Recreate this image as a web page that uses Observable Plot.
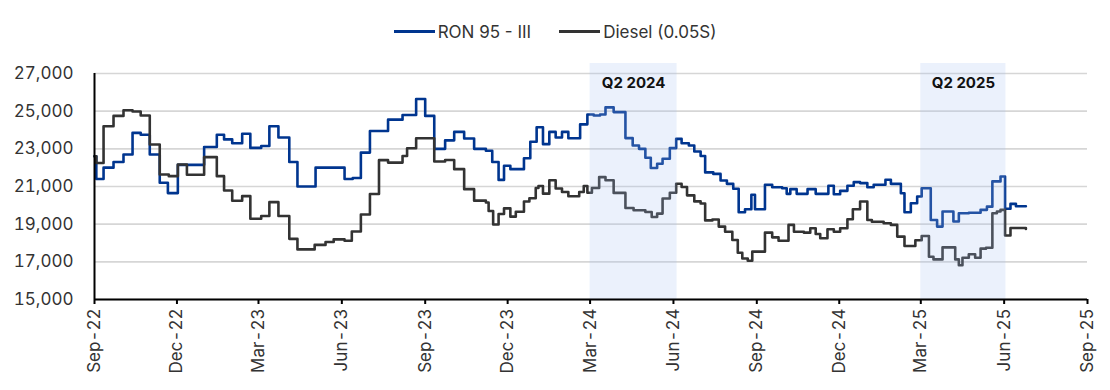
<!DOCTYPE html>
<html>
<head>
<meta charset="utf-8">
<script src="https://cdn.jsdelivr.net/npm/d3@7"></script>
<script src="https://cdn.jsdelivr.net/npm/@observablehq/plot@0.6"></script>
<style>
  html, body { margin: 0; padding: 0; background: #fff; }
  body { width: 1110px; height: 390px; overflow: hidden; font-family: Inter, "DejaVu Sans", sans-serif; }
  #legend { height: 50px; box-sizing: border-box; padding-top: 13px; display: flex; justify-content: center; align-items: center; font-size: 17px; color: #333; }
  .item { display: flex; align-items: center; margin: 0 14px; }
  .sw { display: inline-block; width: 41px; height: 3px; margin-right: 3px; }
  svg { display: block; }
</style>
</head>
<body>
<div id="legend"></div>
<div id="chart"></div>
<script>
const seriesNames = ["RON 95 - III", "Diesel (0.05S)"];
const seriesColors = ["#00358f", "#333333"];

const ronDates = ["2022-09-01","2022-09-03","2022-09-11","2022-09-22","2022-10-03","2022-10-13","2022-10-22","2022-11-01","2022-11-12","2022-11-21","2022-12-02","2022-12-31","2023-01-14","2023-01-22","2023-01-31","2023-02-11","2023-02-20","2023-03-04","2023-03-13","2023-03-23","2023-04-04","2023-04-13","2023-05-03","2023-06-04","2023-06-13","2023-06-22","2023-07-02","2023-07-22","2023-08-07","2023-08-22","2023-09-01","2023-09-11","2023-09-23","2023-10-03","2023-10-14","2023-10-25","2023-11-07","2023-11-14","2023-11-21","2023-11-27","2023-12-04","2023-12-19","2023-12-26","2024-01-02","2024-01-09","2024-01-16","2024-01-23","2024-01-30","2024-02-06","2024-02-19","2024-02-27","2024-03-05","2024-03-12","2024-03-18","2024-03-27","2024-04-09","2024-04-17","2024-04-24","2024-05-01","2024-05-07","2024-05-14","2024-05-20","2024-05-28","2024-06-04","2024-06-10","2024-06-18","2024-06-24","2024-07-01","2024-07-06","2024-07-15","2024-07-23","2024-07-30","2024-08-06","2024-08-12","2024-08-19","2024-08-26","2024-08-30","2024-09-10","2024-09-18","2024-09-29","2024-10-04","2024-10-08","2024-10-15","2024-10-27","2024-11-05","2024-11-19","2024-11-25","2024-12-02","2024-12-10","2024-12-17","2024-12-24","2025-01-01","2025-01-08","2025-01-21","2025-01-27","2025-02-07","2025-02-11","2025-02-18","2025-02-25","2025-03-02","2025-03-12","2025-03-19","2025-03-25","2025-04-06","2025-04-12","2025-04-23","2025-05-06","2025-05-13","2025-05-19","2025-05-28","2025-06-02","2025-06-08","2025-06-14","2025-06-25"];
const ronValues = [22600,21400,22000,22300,22700,23850,23750,22700,21200,20650,22150,23100,23750,23500,23300,23800,23050,23150,24200,23600,22300,21000,22000,21400,21450,22800,23950,24550,24800,25650,24750,23000,23450,23900,23550,23000,22900,22300,21350,22100,21920,22500,23380,24150,23250,23900,23600,23900,23560,24300,24820,24770,24820,25200,24950,23570,23180,23000,22530,21980,22210,22470,23040,23530,23300,23180,22860,22620,21750,21670,21320,21140,20880,19630,19790,20560,19790,21090,20960,20910,20610,20860,20610,20860,20610,21040,20590,20770,21040,21230,21180,20960,21090,21360,21140,20640,19630,20110,20470,20910,19220,18870,19670,19140,19580,19610,19760,19930,21270,21530,19820,20080,19950,19950];

const dieselDates = ["2022-09-01","2022-09-03","2022-09-11","2022-09-22","2022-10-03","2022-10-13","2022-10-22","2022-11-01","2022-11-12","2022-11-22","2022-12-02","2022-12-12","2022-12-31","2023-01-14","2023-01-22","2023-01-31","2023-02-11","2023-02-20","2023-03-04","2023-03-13","2023-03-23","2023-04-04","2023-04-13","2023-05-02","2023-05-14","2023-05-23","2023-06-04","2023-06-12","2023-06-22","2023-07-02","2023-07-12","2023-07-22","2023-08-07","2023-08-12","2023-08-22","2023-09-11","2023-09-23","2023-10-03","2023-10-14","2023-10-25","2023-11-07","2023-11-10","2023-11-15","2023-11-21","2023-11-27","2023-12-04","2023-12-10","2023-12-19","2023-12-25","2024-01-01","2024-01-04","2024-01-09","2024-01-16","2024-01-23","2024-01-30","2024-02-06","2024-02-18","2024-02-23","2024-02-27","2024-03-03","2024-03-11","2024-03-18","2024-03-27","2024-04-09","2024-04-18","2024-05-01","2024-05-08","2024-05-14","2024-05-20","2024-05-28","2024-06-04","2024-06-10","2024-06-16","2024-06-24","2024-07-01","2024-07-06","2024-07-14","2024-07-21","2024-07-28","2024-08-05","2024-08-11","2024-08-16","2024-08-22","2024-08-27","2024-09-10","2024-09-18","2024-09-25","2024-10-06","2024-10-12","2024-10-23","2024-10-30","2024-11-05","2024-11-10","2024-11-18","2024-11-25","2024-12-02","2024-12-10","2024-12-16","2024-12-24","2025-01-01","2025-01-06","2025-01-19","2025-01-27","2025-02-03","2025-02-11","2025-02-23","2025-03-02","2025-03-10","2025-03-15","2025-03-25","2025-04-08","2025-04-12","2025-04-16","2025-04-23","2025-04-30","2025-05-06","2025-05-12","2025-05-19","2025-05-24","2025-05-28","2025-06-02","2025-06-08","2025-06-25"];
const dieselValues = [22600,22250,24200,24750,25050,24980,24770,23230,21640,21550,22170,21620,22560,21550,20790,20240,20490,19290,19430,20170,19430,18220,17660,17900,18050,18190,18120,18610,19510,20600,22400,22270,22620,23030,23560,22330,22410,21920,20860,20250,20150,19700,18980,19540,19840,19400,19660,20200,20380,20920,21030,20620,21330,20890,20710,20480,20710,21030,20670,20920,21500,21330,20660,19860,19740,19650,19380,19560,20360,20670,21150,20970,20530,20210,20100,19200,19250,18870,18600,18160,17480,17180,17060,17540,18550,18300,18120,18960,18600,18550,18780,18480,18250,18730,18600,18780,19260,19790,20200,19220,19130,19050,18960,18340,17840,18150,18370,17270,17130,17770,17130,16820,17220,17400,17220,17700,17750,19580,19670,19760,18400,18800,18750];

const quarterLabels = ["Q2 2024", "Q2 2025"];
const quarterStarts = ["2024-03-01", "2025-03-01"];
const quarterEnds = ["2024-06-05", "2025-06-03"];

const xTicks = ["2022-09-01","2022-12-01","2023-03-01","2023-06-01","2023-09-01","2023-12-01","2024-03-01","2024-06-01","2024-09-01","2024-12-01","2025-03-01","2025-06-01","2025-09-01"];
const yTicks = [15000, 17000, 19000, 21000, 23000, 25000, 27000];

const parse = d3.utcParse("%Y-%m-%d");
const ron = ronDates.map((d, i) => ({date: parse(d), value: ronValues[i]}));
const diesel = dieselDates.map((d, i) => ({date: parse(d), value: dieselValues[i]}));
const quarters = quarterLabels.map((l, i) => ({label: l, start: parse(quarterStarts[i]), end: parse(quarterEnds[i])}));
const xTickDates = xTicks.map(parse);

// legend
const legend = document.getElementById("legend");
seriesNames.forEach((n, i) => {
  const it = document.createElement("div");
  it.className = "item";
  const sw = document.createElement("span");
  sw.className = "sw";
  sw.style.background = seriesColors[i];
  it.appendChild(sw);
  it.appendChild(document.createTextNode(n));
  legend.appendChild(it);
});

const chart = Plot.plot({
  width: 1110,
  height: 340,
  marginTop: 23,
  marginBottom: 91,
  marginLeft: 94,
  marginRight: 23,
  style: {fontFamily: "Inter, 'DejaVu Sans', sans-serif", fontSize: "17px", color: "#333", background: "#fff"},
  x: {type: "utc", domain: [xTickDates[0], xTickDates[xTickDates.length - 1]]},
  y: {domain: [yTicks[0], yTicks[yTicks.length - 1]]},
  marks: [
    Plot.gridY(yTicks, {stroke: "#d6d6d6", strokeOpacity: 1, strokeWidth: 1.7}),
    Plot.line(ron, {x: "date", y: "value", curve: "step-after", stroke: seriesColors[0], strokeWidth: 2.6}),
    Plot.line(diesel, {x: "date", y: "value", curve: "step-after", stroke: seriesColors[1], strokeWidth: 2.6}),
    Plot.rect(quarters, {x1: "start", x2: "end", insetTop: -10, fill: "#a4c0f0", fillOpacity: 0.22}),
    Plot.text(quarters, {x: d => new Date((d.start.getTime() + d.end.getTime()) / 2), text: "label", frameAnchor: "top", dy: 4, fontWeight: "bold", fontSize: 15, fill: "#111"}),
    Plot.axisY(yTicks, {tickSize: 0, tickPadding: 21, tickFormat: d3.format(","), label: null, fill: "#333"}),
    Plot.axisX(xTickDates, {tickRotate: -90, tickFormat: d3.utcFormat("%b-%y"), tickSize: 5, tickPadding: 4, stroke: "#000", strokeWidth: 2, label: null, fill: "#333"}),
    Plot.ruleX([xTickDates[0]], {stroke: "#000", strokeWidth: 2}),
    Plot.ruleY([yTicks[0]], {stroke: "#000", strokeWidth: 2})
  ]
});
document.getElementById("chart").appendChild(chart);
</script>
</body>
</html>
